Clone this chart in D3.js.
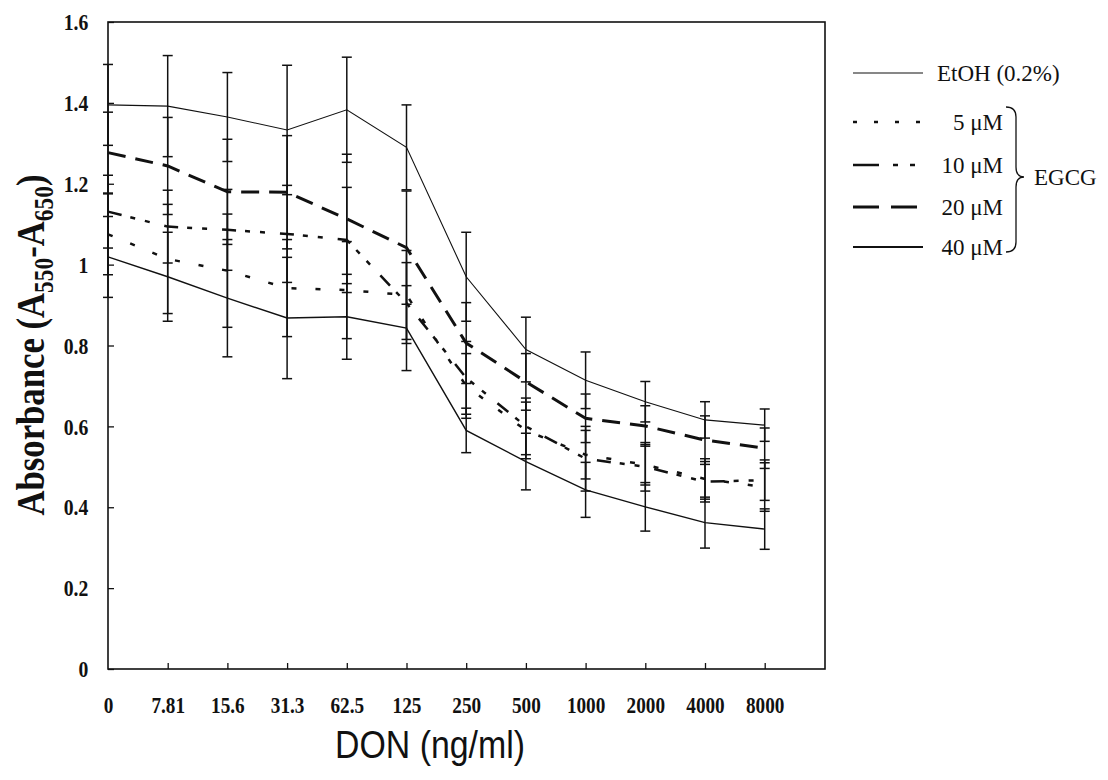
<!DOCTYPE html>
<html>
<head>
<meta charset="utf-8">
<script src="https://cdn.jsdelivr.net/npm/d3@7"></script>
<style>
  body { margin: 0; background: #fff; }
  svg { display: block; }
</style>
</head>
<body>
<svg></svg>
<script>
// doses on the x axis (ng/ml)
var doses = ["0", "7.81", "15.6", "31.3", "62.5", "125", "250", "500", "1000", "2000", "4000", "8000"]
var yTicks = [0, 0.2, 0.4, 0.6, 0.8, 1, 1.2, 1.4, 1.6]

// absorbance means
var etoh   = [1.395, 1.392, 1.365, 1.333, 1.383, 1.29, 0.97, 0.79, 0.714, 0.661, 0.616, 0.603]
var egcg5  = [1.075, 1.014, 0.985, 0.942, 0.937, 0.925, 0.70, 0.59, 0.53, 0.505, 0.47, 0.45]
var egcg10 = [1.131, 1.094, 1.086, 1.076, 1.061, 0.905, 0.72, 0.60, 0.52, 0.50, 0.463, 0.467]
var egcg20 = [1.277, 1.244, 1.18, 1.179, 1.113, 1.042, 0.806, 0.71, 0.62, 0.601, 0.566, 0.546]
var egcg40 = [1.019, 0.97, 0.917, 0.868, 0.871, 0.843, 0.59, 0.513, 0.443, 0.401, 0.362, 0.346]

// error bars (+/-)
var etohErr   = [0.10, 0.125, 0.11, 0.16, 0.13, 0.105, 0.11, 0.08, 0.07, 0.05, 0.045, 0.04]
var egcg5Err  = [0.10, 0.135, 0.14, 0.12, 0.12, 0.11, 0.08, 0.07, 0.06, 0.05, 0.05, 0.06]
var egcg10Err = [0.09, 0.09, 0.10, 0.12, 0.13, 0.10, 0.09, 0.07, 0.08, 0.06, 0.05, 0.05]
var egcg20Err = [0.10, 0.12, 0.13, 0.14, 0.16, 0.14, 0.10, 0.07, 0.06, 0.05, 0.06, 0.05]
var egcg40Err = [0.10, 0.11, 0.145, 0.15, 0.105, 0.105, 0.055, 0.07, 0.068, 0.06, 0.063, 0.05]

var seriesNames = ["EtOH (0.2%)", "5 \u03bcM", "10 \u03bcM", "20 \u03bcM", "40 \u03bcM"]

var screen = {width: 1108, height: 780}
var margins = {top: 22, left: 108, right: 283, bottom: 111}
var width = screen.width - margins.left - margins.right
var height = screen.height - margins.top - margins.bottom

//line looks per series (plot, legend)
var looks = [
  {w: 1.1, dash: null, legDash: null},
  {w: 2.5, dash: "5,19", legDash: "4,17"},
  {w: 2.5, dash: "14,9,5,10,5,15", legDash: "26,14,5,12,5,20"},
  {w: 3, dash: "18,10", legDash: "26,12"},
  {w: 1.4, dash: null, legDash: null}
]

var series = [
  {name: seriesNames[0], values: etoh, err: etohErr},
  {name: seriesNames[1], values: egcg5, err: egcg5Err},
  {name: seriesNames[2], values: egcg10, err: egcg10Err},
  {name: seriesNames[3], values: egcg20, err: egcg20Err},
  {name: seriesNames[4], values: egcg40, err: egcg40Err}
]

var svg = d3.select("svg")
  .attr("width", screen.width)
  .attr("height", screen.height)

var g = svg.append("g")
  .attr("transform", "translate(" + margins.left + "," + margins.top + ")")

var xScale = d3.scalePoint()
  .domain(doses)
  .range([0, 59.7 * 11])

var yScale = d3.scaleLinear()
  .domain([0, 1.6])
  .range([height, 0])

var serif = "'Liberation Serif', 'Times New Roman', serif"

// frame
g.append("rect")
  .attr("x", 0).attr("y", 0)
  .attr("width", width).attr("height", height)
  .attr("fill", "none")
  .attr("stroke", "#111")
  .attr("stroke-width", 1.6)

//axes
var yAxis = d3.axisLeft(yScale)
  .tickValues(yTicks)
  .tickSize(-6)
  .tickPadding(20)
  .tickFormat(function(d){ return String(+d.toFixed(1)) })

var xAxis = d3.axisBottom(xScale)
  .tickSize(-6)
  .tickPadding(27)

var ya = g.append("g").call(yAxis)
var xa = g.append("g").attr("transform", "translate(0," + height + ")").call(xAxis)

;[ya, xa].forEach(function(a){
  a.select(".domain").remove()
  a.selectAll("line").attr("stroke", "#111").attr("stroke-width", 1.3)
  a.selectAll("text")
    .attr("fill", "#111")
    .style("font-family", serif)
    .style("font-weight", "bold")
    .style("font-size", "24px")
})
// condensed look of the scanned labels
ya.selectAll("text").attr("x", -24).attr("transform", "scale(0.82,1)")
xa.selectAll("text").attr("transform", "scale(0.8,1)")
xa.selectAll(".tick").filter(function(d){ return d == "0" }).select("line").remove()

// error bars
series.forEach(function(s){
  var eb = g.append("g")
  s.values.forEach(function(v, i){
    var x = xScale(doses[i])
    var y1 = yScale(v + s.err[i])
    var y2 = yScale(v - s.err[i])
    eb.append("line").attr("x1", x).attr("x2", x).attr("y1", y1).attr("y2", y2)
      .attr("stroke", "#111").attr("stroke-width", 1.5)
    ;[y1, y2].forEach(function(yy){
      eb.append("line").attr("x1", x - 5).attr("x2", x + 5).attr("y1", yy).attr("y2", yy)
        .attr("stroke", "#111").attr("stroke-width", 1.5)
    })
  })
})

// lines
var line = d3.line()
  .x(function(d, i){ return xScale(doses[i]) })
  .y(function(d){ return yScale(d) })

series.forEach(function(s, k){
  g.append("path")
    .datum(s.values)
    .attr("d", line)
    .attr("fill", "none")
    .attr("stroke", "#111")
    .attr("stroke-width", looks[k].w)
    .attr("stroke-dasharray", looks[k].dash)
})

// axis titles
var yt = svg.append("text")
  .attr("transform", "translate(44,345) rotate(-90)")
  .attr("text-anchor", "middle")
  .attr("textLength", 341)
  .attr("lengthAdjust", "spacingAndGlyphs")
  .style("font-family", serif)
  .style("font-weight", "bold")
  .style("font-size", "40px")
  .attr("fill", "#111")
yt.append("tspan").text("Absorbance (A")
yt.append("tspan").attr("dy", 9).style("font-size", "27px").text("550")
yt.append("tspan").attr("dy", -9).text("-A")
yt.append("tspan").attr("dy", 9).style("font-size", "27px").text("650")
yt.append("tspan").attr("dy", -9).text(")")

svg.append("text")
  .attr("x", 430).attr("y", 758)
  .attr("text-anchor", "middle")
  .attr("textLength", 190)
  .attr("lengthAdjust", "spacingAndGlyphs")
  .style("font-family", "'Liberation Sans', Arial, sans-serif")
  .style("font-size", "38px")
  .attr("fill", "#111")
  .text("DON (ng/ml)")

// legend
var legY = [73, 122, 165, 207, 247]
var leg = svg.append("g")
series.forEach(function(s, k){
  leg.append("line")
    .attr("x1", 853).attr("x2", 923)
    .attr("y1", legY[k]).attr("y2", legY[k])
    .attr("stroke", "#111")
    .attr("stroke-width", k == 4 ? 2 : looks[k].w)
    .attr("stroke-dasharray", looks[k].legDash)
  leg.append("text")
    .attr("x", k == 0 ? 937 : 1003)
    .attr("y", legY[k])
    .attr("dy", "0.35em")
    .attr("text-anchor", k == 0 ? "start" : "end")
    .style("font-family", serif)
    .style("font-size", "23px")
    .attr("fill", "#111")
    .text(s.name)
})

leg.append("path")
  .attr("d", "M1006,107 Q1016,107 1016,117 L1016,167 Q1016,177 1024,177 Q1016,177 1016,187 L1016,242 Q1016,252 1006,252")
  .attr("fill", "none")
  .attr("stroke", "#111")
  .attr("stroke-width", 1.3)

leg.append("text")
  .attr("x", 1034).attr("y", 177)
  .attr("dy", "0.35em")
  .style("font-family", serif)
  .style("font-size", "23px")
  .attr("fill", "#111")
  .text("EGCG")
</script>
</body>
</html>
